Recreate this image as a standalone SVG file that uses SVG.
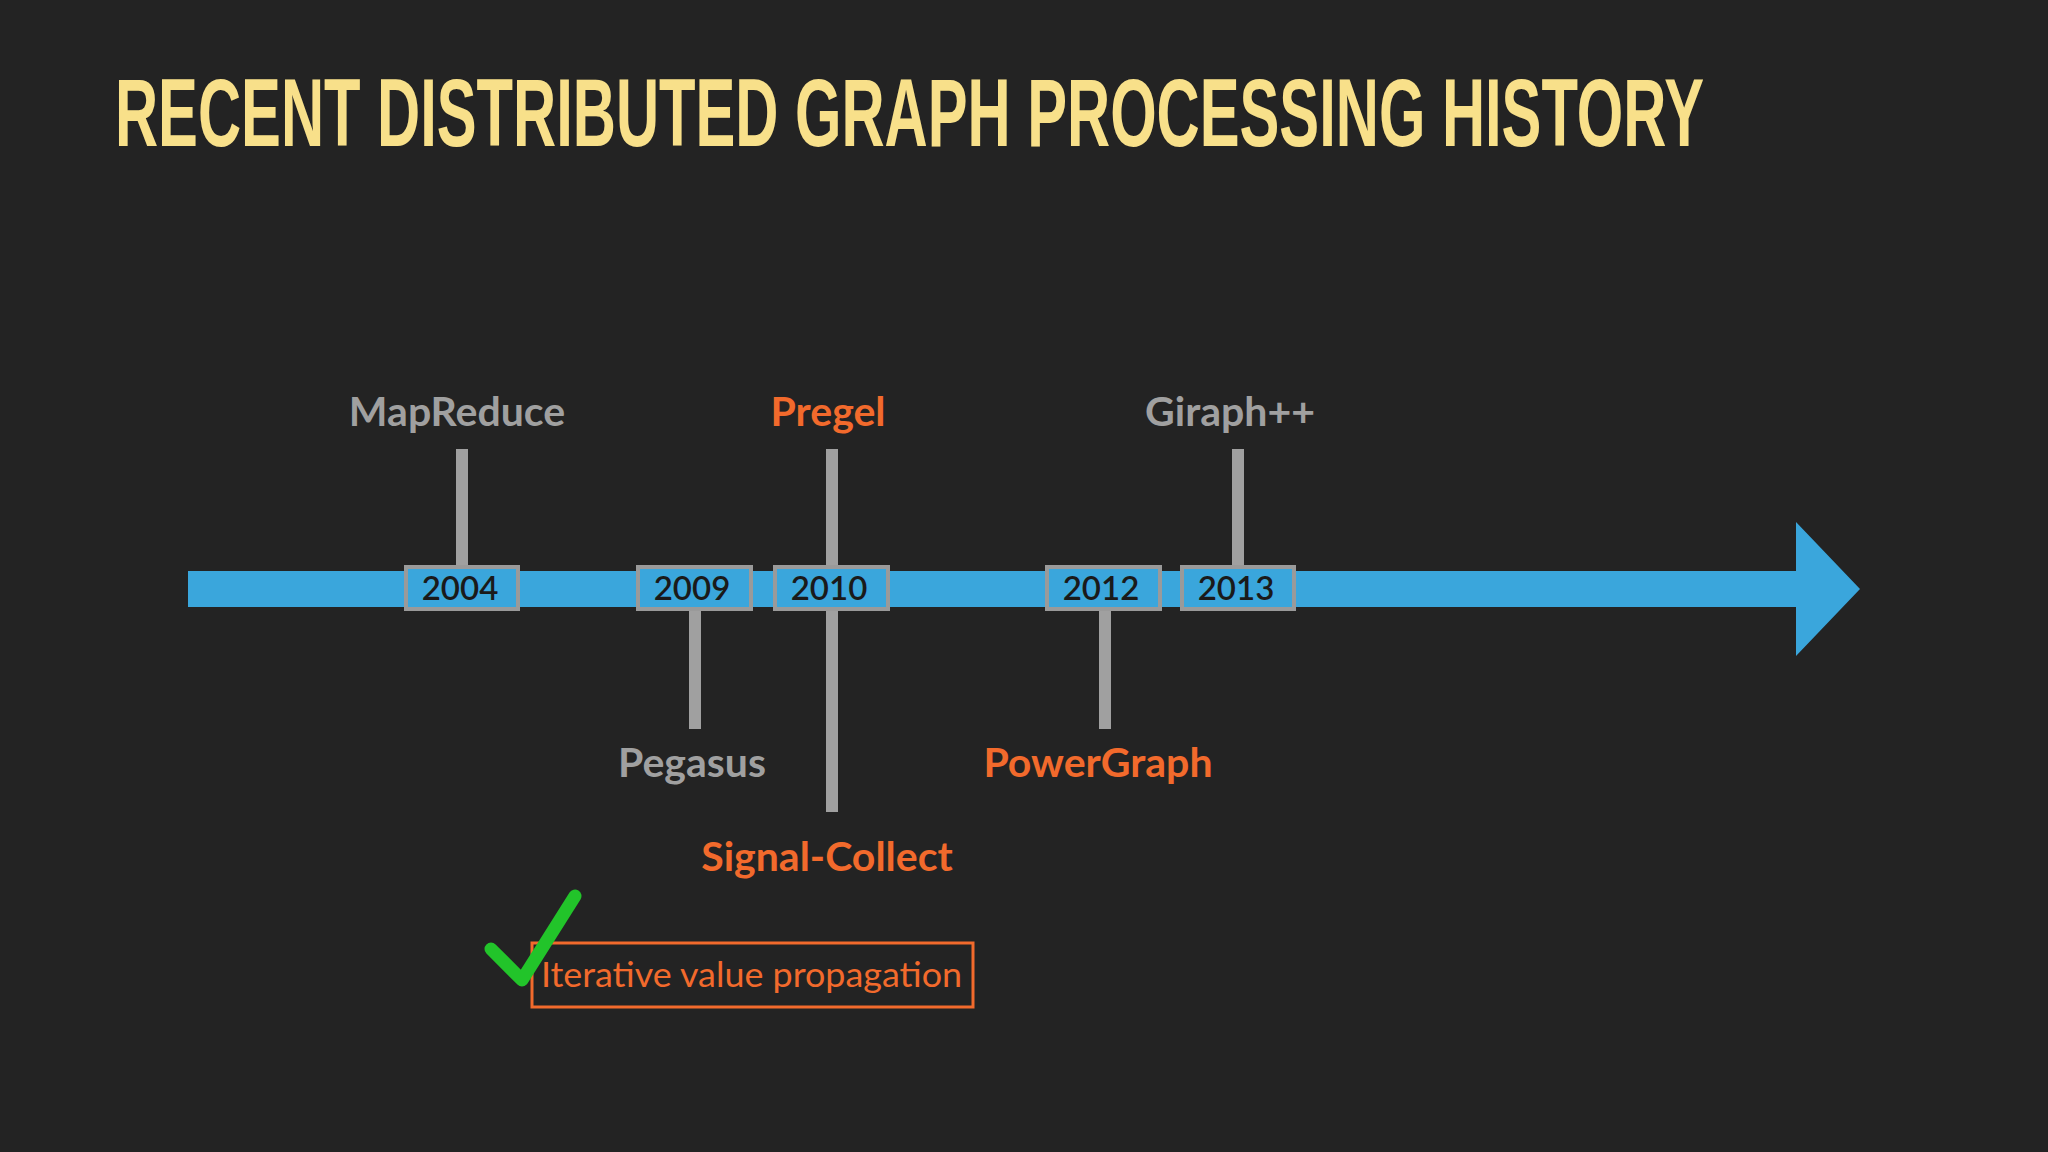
<svg xmlns="http://www.w3.org/2000/svg" width="2048" height="1152" viewBox="0 0 2048 1152">
<style>
.lbl{font-family:Lato,"Open Sans",sans-serif;font-size:41px;text-anchor:middle;font-weight:bold}
.g{fill:#a0a0a0}.o{fill:#f26a2c}
.yr rect{fill:#3aa6dc;stroke:#9a9a9a;stroke-width:4}
.yr text{font-family:Lato,"Open Sans",sans-serif;font-size:33px;font-weight:600;fill:#1a1a1a;text-anchor:middle}
.stem{fill:#a0a0a0}
</style>
<rect width="2048" height="1152" fill="#232323"/>
<text x="115" y="146" font-family="'Liberation Sans',sans-serif" font-weight="bold" font-size="96" fill="#f8e08a" textLength="1589" lengthAdjust="spacingAndGlyphs">RECENT DISTRIBUTED GRAPH PROCESSING HISTORY</text>
<g id="connectors">
<polygon points="188,571 1796,571 1796,522 1860,589 1796,656 1796,607 188,607" fill="#3aa6dc"/>
<rect class="stem" x="456" y="449" width="12" height="118"/>
<rect class="stem" x="826" y="449" width="12" height="363"/>
<rect class="stem" x="1232" y="449" width="12" height="118"/>
<rect class="stem" x="689" y="609" width="12" height="120"/>
<rect class="stem" x="1099" y="609" width="12" height="120"/>
</g>
<g id="y2004" class="yr"><rect x="406" y="567" width="112" height="42"/><text x="460" y="600">2004</text></g>
<g id="y2009" class="yr"><rect x="638" y="567" width="113" height="42"/><text x="692" y="600">2009</text></g>
<g id="y2010" class="yr"><rect x="775" y="567" width="113" height="42"/><text x="829" y="600">2010</text></g>
<g id="y2012" class="yr"><rect x="1047" y="567" width="113" height="42"/><text x="1101" y="600">2012</text></g>
<g id="y2013" class="yr"><rect x="1182" y="567" width="112" height="42"/><text x="1236" y="600">2013</text></g>
<g id="mapreduce"><text class="lbl g" x="457" y="426">MapReduce</text></g>
<g id="pregel"><text class="lbl o" x="828" y="426">Pregel</text></g>
<g id="giraph"><text class="lbl g" x="1230" y="426">Giraph++</text></g>
<g id="pegasus"><text class="lbl g" x="692" y="777">Pegasus</text></g>
<g id="powergraph"><text class="lbl o" x="1098" y="777">PowerGraph</text></g>
<g id="signalcollect"><text class="lbl o" x="827" y="871">Signal-Collect</text></g>
<g id="note">
<rect x="532" y="943" width="441" height="64" fill="none" stroke="#f26a2c" stroke-width="3"/>
<text x="541" y="987" font-family="Lato,'Open Sans',sans-serif" font-size="35" fill="#f26a2c" textLength="421" lengthAdjust="spacingAndGlyphs">Iterative value propagation</text>
<path d="M491,949 L522,980 L575,896" fill="none" stroke="#22c42a" stroke-width="13" stroke-linecap="round" stroke-linejoin="round"/>
</g>
</svg>
